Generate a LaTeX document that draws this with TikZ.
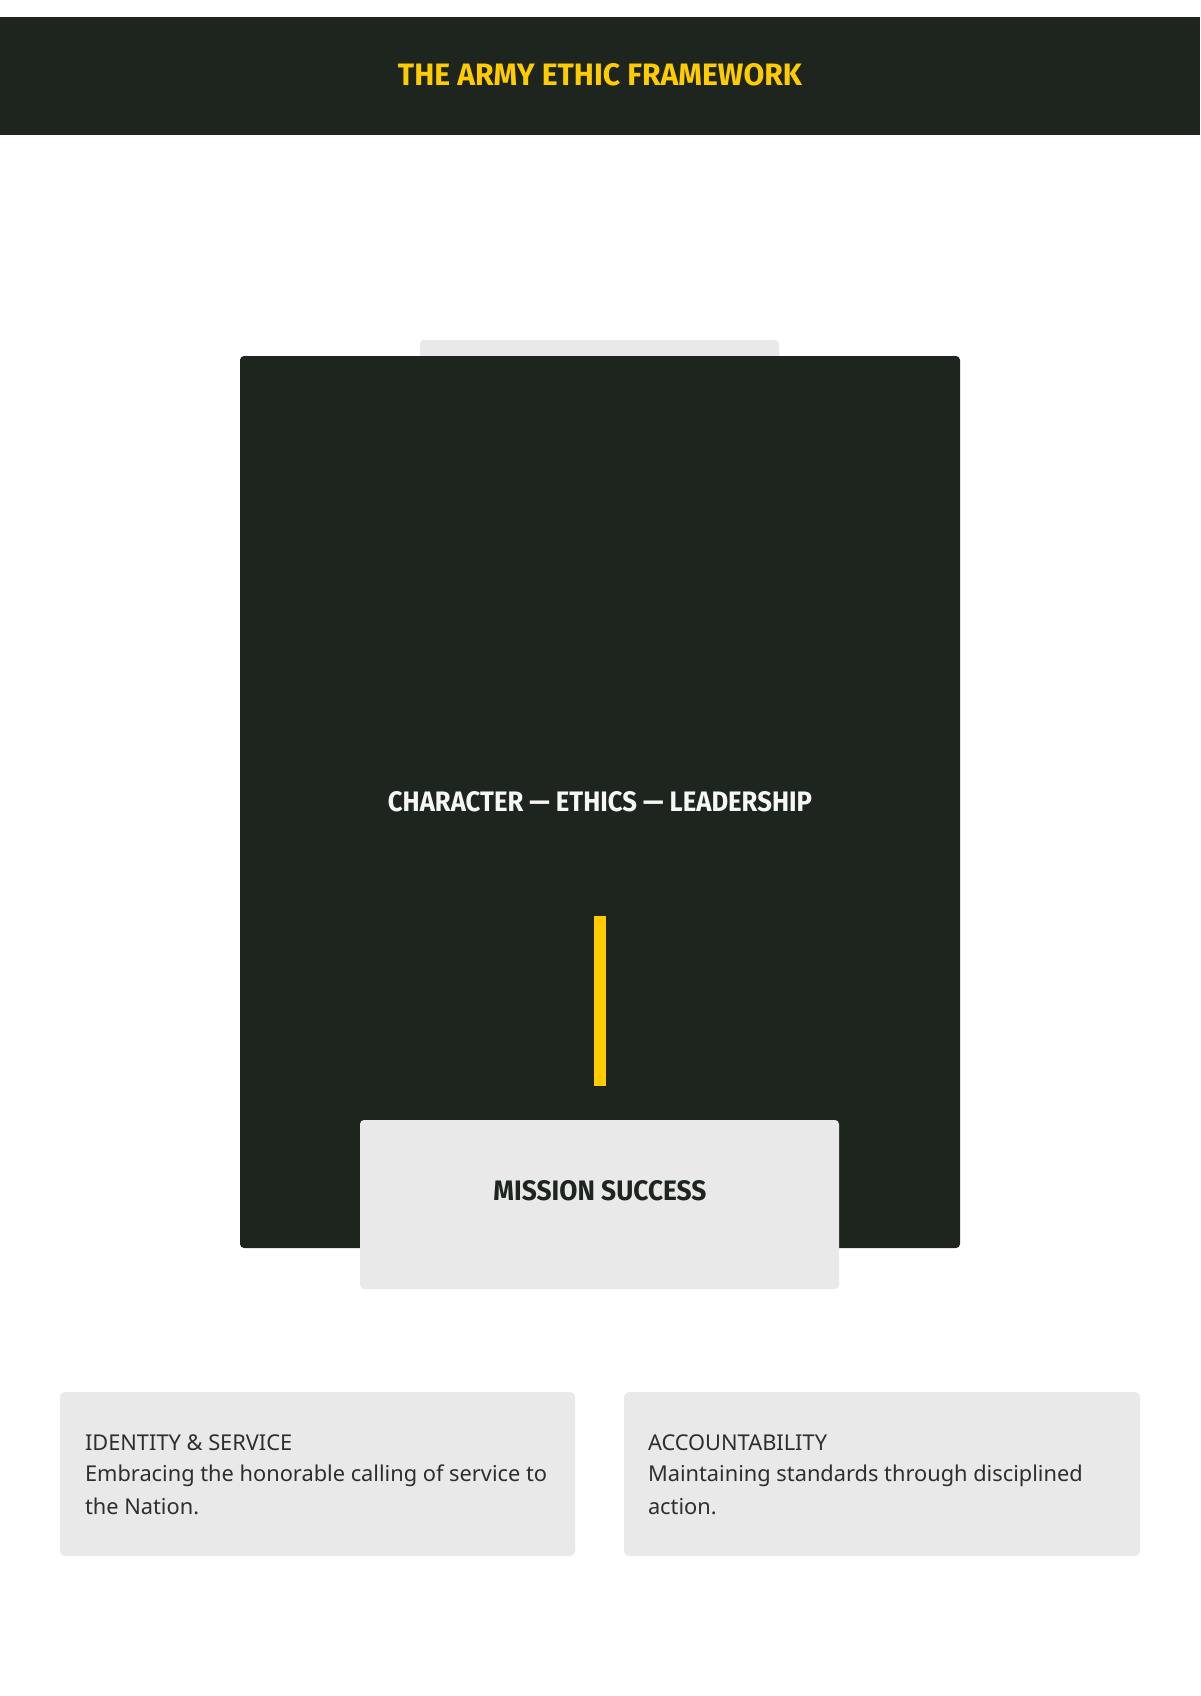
\documentclass[tikz,border=0pt]{standalone}
\usepackage{fontspec}
\usepackage{graphicx}
\setmainfont{Noto Sans}
\newfontfamily\headfont{Fira Sans}
\definecolor{armydark}{HTML}{1D251E}
\definecolor{armyyellow}{HTML}{FFCC00}
\definecolor{panelgray}{HTML}{E9E9E9}
\definecolor{bodytext}{HTML}{2E2E2E}
\definecolor{headwhite}{HTML}{F7F7F7}
\newcommand{\headtext}[3]{\resizebox{#1}{#2}{\headfont\bfseries #3}}
\tikzset{
  block/.style={inner sep=0pt, outer sep=0pt, anchor=north west},
  headlabel/.style={inner sep=0pt, outer sep=0pt, anchor=center},
  cardline/.style={inner sep=0pt, outer sep=0pt, anchor=base west, text=bodytext, font=\fontsize{21.8}{32}\selectfont},
}
\begin{document}
\begin{tikzpicture}[x=1pt,y=-1pt]
\useasboundingbox[fill=white] (0,0) rectangle (1200,1696);
% header
\node[block, fill=armydark, minimum width=1200pt, minimum height=118pt] (header) at (0,17) {};
\node[headlabel, text=armyyellow] (title) at (600,75) {\headtext{404pt}{22pt}{THE ARMY ETHIC FRAMEWORK}};
% tab behind main panel
\node[block, fill=panelgray, rounded corners=4pt, minimum width=359pt, minimum height=30pt] (tab) at (420,340) {};
% main dark panel
\node[block, fill=armydark, rounded corners=4pt, minimum width=720pt, minimum height=892pt] (panel) at (240,356) {};
\node[headlabel, text=headwhite] (pillars) at (600,801.7) {\headtext{424pt}{20pt}{CHARACTER — ETHICS — LEADERSHIP}};
% yellow bar
\node[block, fill=armyyellow, minimum width=12pt, minimum height=170pt] (bar) at (594,916) {};
% mission box
\node[block, fill=panelgray, rounded corners=4pt, minimum width=479pt, minimum height=169pt] (mission) at (360,1120) {};
\node[headlabel, text=armydark] (missiontext) at (600,1191) {\headtext{213pt}{20pt}{MISSION SUCCESS}};
% cards
\node[block, fill=panelgray, rounded corners=5pt, minimum width=515pt, minimum height=164pt] (cardA) at (60,1392) {};
\node[block, fill=panelgray, rounded corners=5pt, minimum width=516pt, minimum height=164pt] (cardB) at (624,1392) {};
\node[cardline] (cardAtitle) at (85,1450) {IDENTITY \& SERVICE};
\node[cardline] (cardAl1) at (85,1481.7) {Embracing the honorable calling of service to};
\node[cardline] (cardAl2) at (85,1514) {the Nation.};
\node[cardline] (cardBtitle) at (648,1450) {ACCOUNTABILITY};
\node[cardline] (cardBl1) at (648,1481.7) {Maintaining standards through disciplined};
\node[cardline] (cardBl2) at (648,1514) {action.};
\end{tikzpicture}
\end{document}
